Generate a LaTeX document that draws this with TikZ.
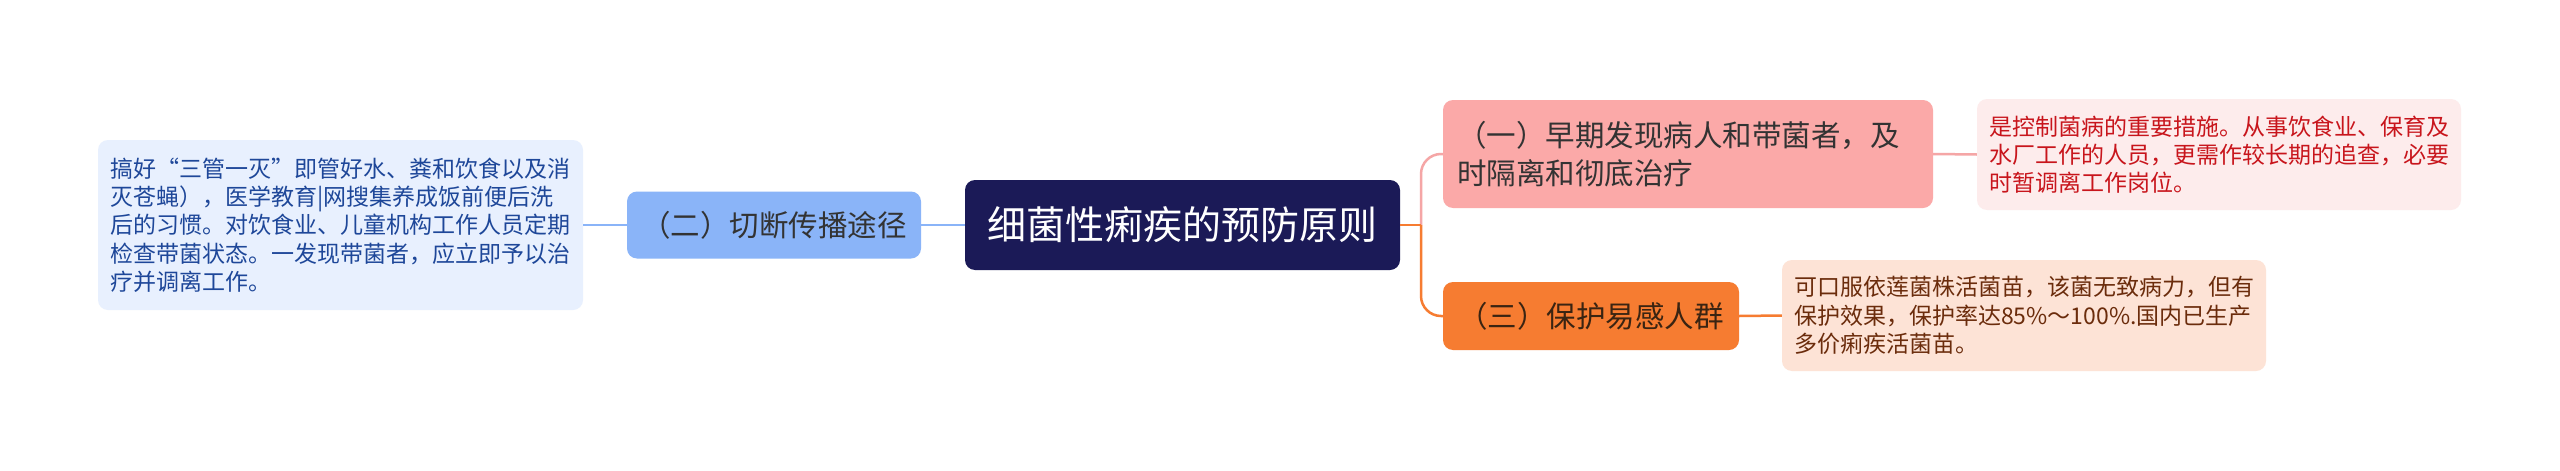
\documentclass[tikz,border=0pt]{standalone}
\usepackage{fontspec}
\newfontfamily\cjk{Noto Sans CJK SC}
\definecolor{rootc}{HTML}{1B1A57}
\definecolor{bluefill}{HTML}{8AB4F8}
\definecolor{blueleaf}{HTML}{E8F0FE}
\definecolor{bluetext}{HTML}{1E4799}
\definecolor{pinkfill}{HTML}{FBA9A8}
\definecolor{pinkleaf}{HTML}{FDECEC}
\definecolor{pinktext}{HTML}{C8151C}
\definecolor{pinkline}{HTML}{F5A6A6}
\definecolor{orfill}{HTML}{F67C31}
\definecolor{orleaf}{HTML}{FDE3D6}
\definecolor{ortext}{HTML}{6B2C0C}
\definecolor{darktext}{HTML}{333333}
\definecolor{ordark}{HTML}{3A2412}
\begin{document}
\begin{tikzpicture}[x=1pt,y=-1pt,
  box/.style={rectangle, rounded corners=10pt, inner ysep=0pt, align=left},
  rootbox/.style={box, fill=rootc, text=white, align=center, inner xsep=0pt,
    font=\cjk\fontsize{39}{47}\selectfont},
  childbox/.style={box, inner xsep=14pt, font=\cjk\fontsize{29.5}{38}\selectfont},
  leafbox/.style={box, inner xsep=12pt, font=\cjk\fontsize{23}{28.3}\selectfont},
  conn/.style={line width=2.5pt},
  bline/.style={conn, draw=bluefill},
  pline/.style={conn, draw=pinkline},
  oline/.style={conn, draw=orfill, rounded corners=20pt}
]
\useasboundingbox (0,0) rectangle (2560,471);
\fill[white] (0,0) rectangle (2560,471);

\node[rootbox, minimum width=435pt, minimum height=90pt] (root) at (1182.5,225) {细菌性痢疾的预防原则};

\node[childbox, fill=bluefill, text=darktext, minimum width=294pt, minimum height=67pt] (c2) at (774,225) {（二）切断传播途径};

\node[leafbox, fill=blueleaf, text=bluetext, text width=461pt, minimum height=170pt] (l2) at (340.5,225)
{搞好“三管一灭”即管好水、粪和饮食以及消\\灭苍蝇），医学教育|网搜集养成饭前便后洗\\后的习惯。对饮食业、儿童机构工作人员定期\\检查带菌状态。一发现带菌者，应立即予以治\\疗并调离工作。};

\node[childbox, fill=pinkfill, text=darktext, text width=462pt, minimum height=108pt] (c1) at (1688,154)
{（一）早期发现病人和带菌者，及\\时隔离和彻底治疗};

\node[leafbox, fill=pinkleaf, text=pinktext, text width=460pt, minimum height=111pt] (l1) at (2219,154.5)
{是控制菌病的重要措施。从事饮食业、保育及\\水厂工作的人员，更需作较长期的追查，必要\\时暂调离工作岗位。};

\node[childbox, fill=orfill, text=ordark, minimum width=296pt, minimum height=68pt] (c3) at (1591,316) {（三）保护易感人群};

\node[leafbox, fill=orleaf, text=ortext, text width=460pt, minimum height=111pt] (l3) at (2024,315.5)
{可口服依莲菌株活菌苗，该菌无致病力，但有\\保护效果，保护率达85\%～100\%.国内已生产\\多价痢疾活菌苗。};

\coordinate (j) at (1421,225);

\draw[bline] (root.west) -- (c2.east);
\draw[bline] (c2.west) -- (l2.east);
\draw[pline, rounded corners=20pt] (j) |- (c1.west);
\draw[oline] (j) |- (c3.west);
\draw[conn, draw=orfill] (root.east) -- (j);
\draw[pline] (c1.east) -- (l1.west);
\draw[conn, draw=orfill] (c3.east) -- (l3.west);
\end{tikzpicture}
\end{document}
